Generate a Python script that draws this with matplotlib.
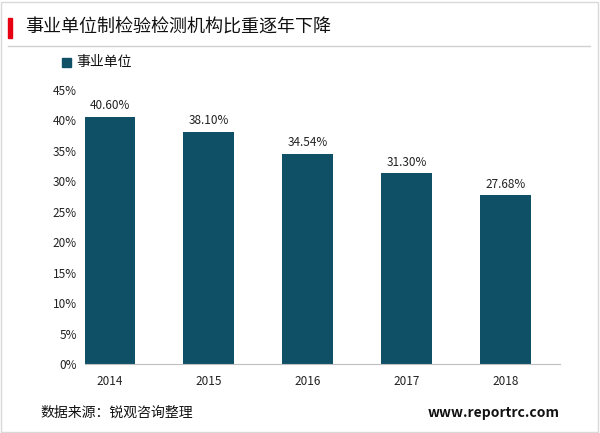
import matplotlib
matplotlib.use("Agg")
import matplotlib.pyplot as plt
from matplotlib.patches import Rectangle
from matplotlib.lines import Line2D

plt.rcParams['font.family'] = ['Noto Sans CJK SC', 'DejaVu Sans']

years = ['2014', '2015', '2016', '2017', '2018']
values = [40.60, 38.10, 34.54, 31.30, 27.68]
labels = ['40.60%', '38.10%', '34.54%', '31.30%', '27.68%']
yticks = [0, 5, 10, 15, 20, 25, 30, 35, 40, 45]

W, H = 600, 433
fig = plt.figure(figsize=(W/100, H/100), dpi=100)
color = '#0F5067'

ax = fig.add_axes([85/W, 1-364/H, 475/W, 274/H])
x = range(len(years))
ax.bar(x, values, width=0.51, color=color)
for i, (v, l) in enumerate(zip(values, labels)):
    ax.text(i, v + 0.8, l, ha='center', va='bottom', fontsize=8.5, color='#222222')
ax.set_ylim(0, 45)
ax.set_xlim(-0.25, 4.55)
ax.set_yticks(yticks)
ax.set_yticklabels([f'{t}%' for t in yticks], fontsize=8.5)
ax.set_xticks(list(x))
ax.set_xticklabels(years, fontsize=8.5)
for s in ['top', 'right', 'left']:
    ax.spines[s].set_visible(False)
ax.spines['bottom'].set_color('#bfbfbf')
ax.tick_params(length=0, colors='#222222')
ax.tick_params(axis='x', pad=8)
ax.tick_params(axis='y', pad=6)

fig.patches.append(Rectangle((8/W, 1-38/H), 4/W, 20/H, transform=fig.transFigure, color='#e60012'))
fig.text(25/W, 1-28/H, '事业单位制检验检测机构比重逐年下降', fontsize=13, va='center', color='#111111')
fig.lines.append(Line2D([8/W, 590/W], [1-46/H, 1-46/H], transform=fig.transFigure, color='#d0d0d0', lw=1))
fig.patches.append(Rectangle((62/W, 1-67/H), 9/W, 9/H, transform=fig.transFigure, color=color))
fig.text(76/W, 1-62/H, '事业单位', fontsize=10, va='center', color='#111111')
fig.text(40/W, 1-413/H, '数据来源：锐观咨询整理', fontsize=10, va='center', color='#111111')
fig.text(560/W, 1-413/H, 'www.reportrc.com', fontsize=10, va='center', ha='right', weight='bold', color='#111111')
fig.patches.append(Rectangle((1/W, 1/H), 597/W, 430/H, transform=fig.transFigure, fill=False, ec='#d9d9d9', lw=1))

fig.savefig('out.png', dpi=100)
